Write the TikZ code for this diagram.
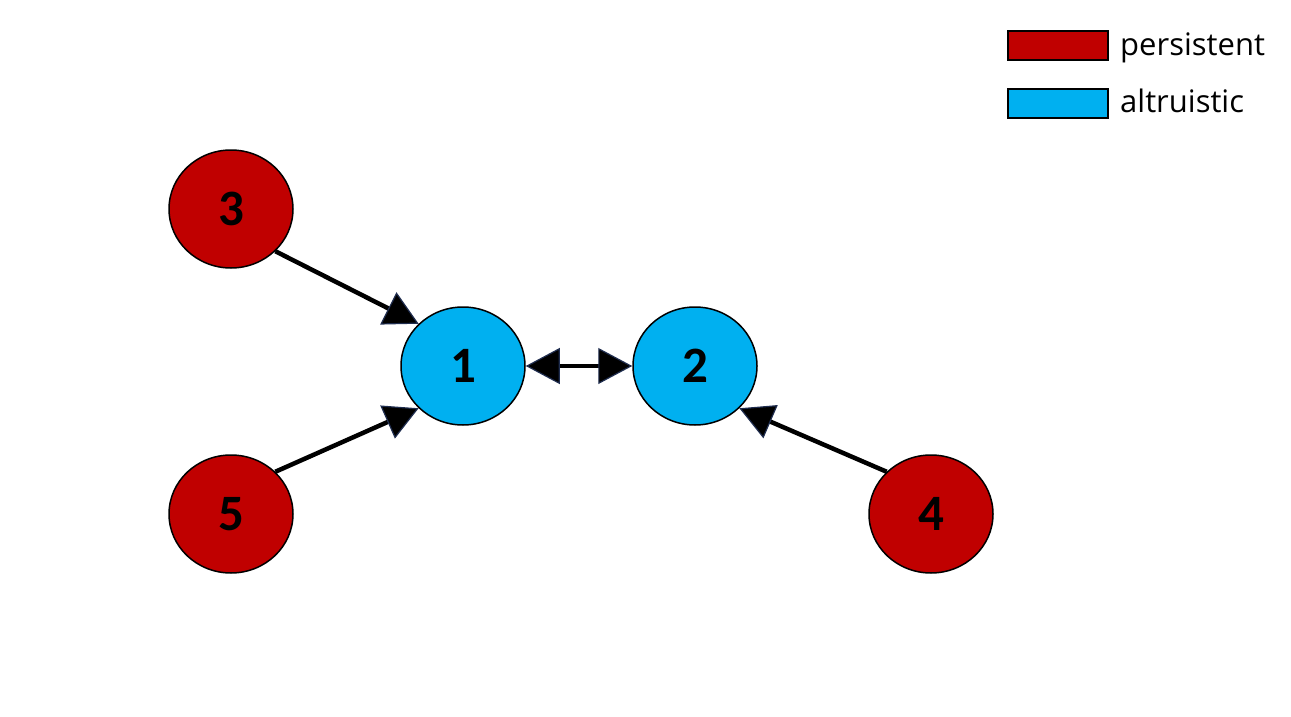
\documentclass[tikz,border=0pt]{standalone}
\usepackage{fontspec}
\setmainfont{Carlito}
\newfontfamily\legendfont{Open Sans}
\usetikzlibrary{arrows.meta,shapes.geometric}
\definecolor{pred}{HTML}{C00000}
\definecolor{ablue}{HTML}{00B0F0}
\definecolor{tipedge}{HTML}{1F2D4F}
\tikzset{
  agent/.style={ellipse,draw=black,line width=1.5pt,minimum width=124pt,minimum height=118pt,inner sep=0pt,
    font=\fontsize{51}{51}\selectfont\bfseries},
  pers/.style={agent,fill=pred},
  altr/.style={agent,fill=ablue},
  tip/.style={},
  link/.style={line width=4.5pt,draw=black,-{Triangle[length=34pt,width=36pt,line width=1.2pt,color=tipedge,fill=black]}},
  legbox/.style={draw=black,line width=1.5pt,minimum width=100pt,minimum height=29pt,inner sep=0pt},
  legtext/.style={anchor=base west,inner sep=0pt,font=\legendfont\fontsize{31}{31}\selectfont}
}
\begin{document}
\begin{tikzpicture}[x=1pt,y=-1pt]
\useasboundingbox (0,0) rectangle (1291,717);
\node[altr] (n1) at (463,366) {1};
\node[altr] (n2) at (695,366) {2};
\node[pers] (n3) at (231,209) {3};
\node[pers] (n5) at (231,514) {5};
\node[pers] (n4) at (931,514) {4};
\draw[link] (n3.south east) -- (n1.north west);
\draw[link] (n5.north east) -- (n1.south west);
\draw[link] (n4.north west) -- (n2.south east);
\draw[link,{Triangle[length=34pt,width=36pt,line width=1.2pt,color=tipedge,fill=black]}-{Triangle[length=34pt,width=36pt,line width=1.2pt,color=tipedge,fill=black]}] (n1.east) -- (n2.west);
\node[legbox,fill=pred] (lp) at (1058,45.5) {};
\node[legbox,fill=ablue] (la) at (1058,103.5) {};
\node[legtext] (tp) at (1120,56) {persistent};
\node[legtext] (ta) at (1120,112) {altruistic};
\end{tikzpicture}
\end{document}
